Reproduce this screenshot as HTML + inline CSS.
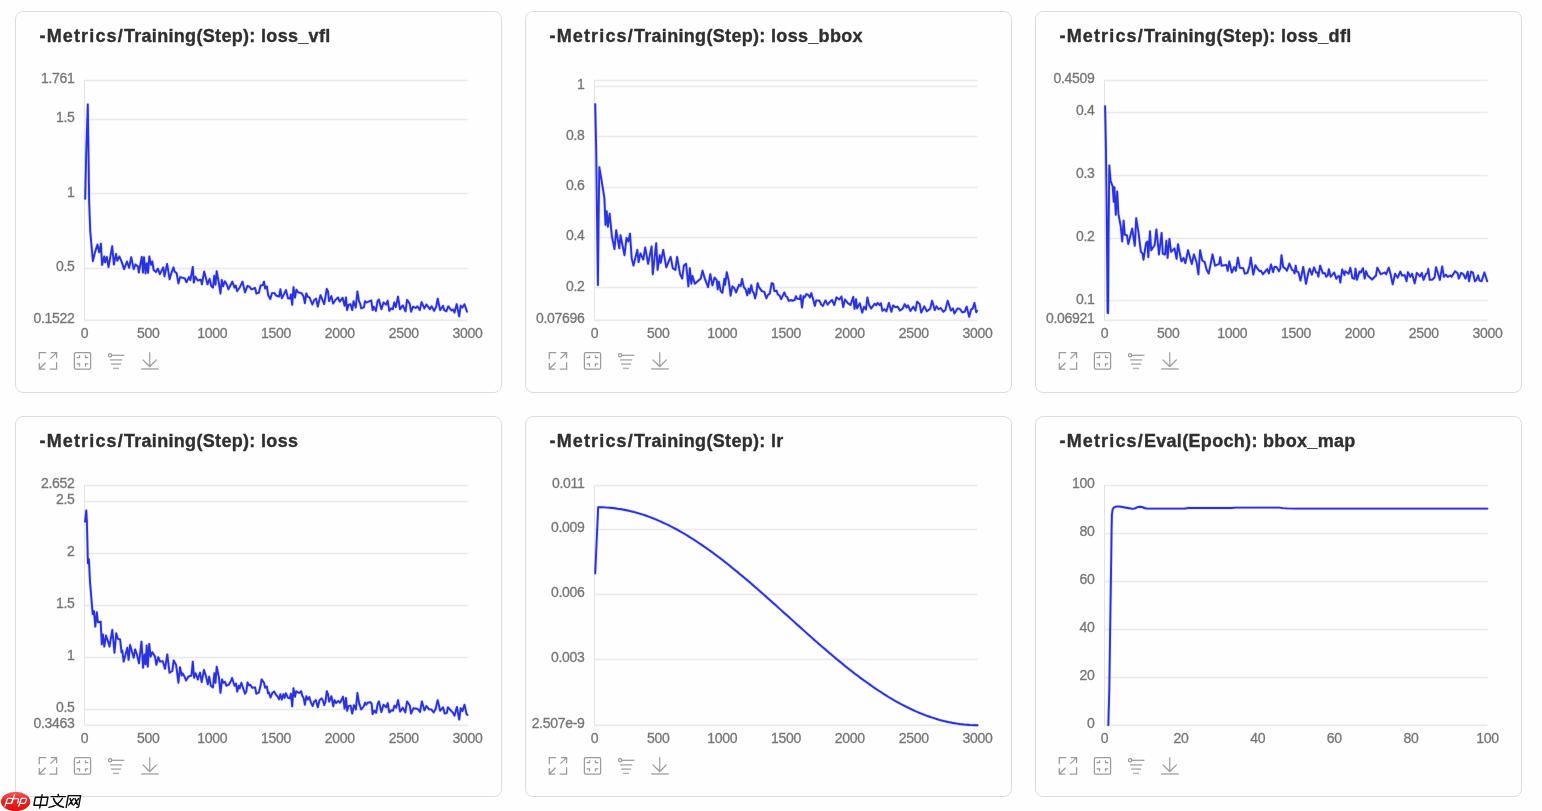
<!DOCTYPE html>
<html lang="en"><head><meta charset="utf-8"><title>Scalar metrics</title>
<style>
html,body{margin:0;padding:0;}
body{width:1542px;height:811px;background:#fefefe;position:relative;overflow:hidden;
 font-family:"Liberation Sans",sans-serif;}
.card{position:absolute;width:487px;height:382px;box-sizing:border-box;border:1px solid #dddddd;
 border-radius:8px;background:transparent;filter:blur(0.3px);}
.card svg{position:absolute;left:-1px;top:-1px;overflow:visible;}
.title{position:absolute;left:23.5px;top:14px;margin:0;font-size:18px;line-height:20px;font-weight:bold;
 color:#2f2f2f;white-space:nowrap;letter-spacing:0.32px;-webkit-text-stroke:0.35px #2f2f2f;}
.ta{letter-spacing:1.15px;}
.wm{position:absolute;left:0;top:788px;width:90px;height:23px;filter:blur(0.3px);}
</style></head><body>
<div class="card" style="left:15px;top:11px;height:382px">
<h3 class="title"><span class="ta">-Metrics/</span>Training(Step): loss_vfl</h3>
<svg class="plot" width="487" height="382" viewBox="0 0 487 382">
<line x1="69.5" y1="69.50" x2="452.5" y2="69.50" stroke="#ebebeb" stroke-width="3" stroke-opacity="0.3"/>
<line x1="69.5" y1="69.50" x2="452.5" y2="69.50" stroke="#ebebeb" stroke-width="1"/>
<line x1="69.5" y1="108.50" x2="452.5" y2="108.50" stroke="#ebebeb" stroke-width="3" stroke-opacity="0.3"/>
<line x1="69.5" y1="108.50" x2="452.5" y2="108.50" stroke="#ebebeb" stroke-width="1"/>
<line x1="69.5" y1="182.50" x2="452.5" y2="182.50" stroke="#ebebeb" stroke-width="3" stroke-opacity="0.3"/>
<line x1="69.5" y1="182.50" x2="452.5" y2="182.50" stroke="#ebebeb" stroke-width="1"/>
<line x1="69.5" y1="257.50" x2="452.5" y2="257.50" stroke="#ebebeb" stroke-width="3" stroke-opacity="0.3"/>
<line x1="69.5" y1="257.50" x2="452.5" y2="257.50" stroke="#ebebeb" stroke-width="1"/>
<line x1="69.5" y1="309.20" x2="452.5" y2="309.20" stroke="#ebebeb" stroke-width="3" stroke-opacity="0.3"/>
<line x1="69.5" y1="309.20" x2="452.5" y2="309.20" stroke="#e4e4e4" stroke-width="1"/>
<line x1="69.5" y1="69.0" x2="69.5" y2="309.7" stroke="#e4e4e4" stroke-width="1"/>
<g font-family="Liberation Sans, sans-serif" font-size="14" fill="#767676" stroke="#767676" stroke-width="0.3" letter-spacing="-0.3" text-anchor="end">
<text x="59.5" y="72.1">1.761</text>
<text x="59.5" y="111.0">1.5</text>
<text x="59.5" y="185.5">1</text>
<text x="59.5" y="260.0">0.5</text>
<text x="59.5" y="311.8">0.1522</text>
</g>
<g font-family="Liberation Sans, sans-serif" font-size="14" fill="#767676" stroke="#767676" stroke-width="0.3" letter-spacing="-0.3" text-anchor="middle">
<text x="69.5" y="326.8">0</text>
<text x="133.3" y="326.8">500</text>
<text x="197.2" y="326.8">1000</text>
<text x="261.0" y="326.8">1500</text>
<text x="324.8" y="326.8">2000</text>
<text x="388.7" y="326.8">2500</text>
<text x="452.5" y="326.8">3000</text>
</g>
<polyline points="70.2,187.8 71.3,139.0 72.8,93.5 74.2,192.5 75.3,221.0 77.9,250.1 80.0,241.2 82.5,233.6 84.2,241.2 85.9,232.8 87.1,253.9 89.2,245.5 90.1,251.4 91.8,245.9 93.5,256.0 97.2,235.3 98.9,253.5 101.0,242.9 102.3,249.7 104.4,245.5 106.9,251.4 109.1,258.1 112.0,250.5 114.1,256.8 116.2,246.3 118.7,258.1 120.4,253.5 123.0,255.6 123.8,261.5 126.8,245.9 128.0,261.5 129.0,246.3 130.6,262.3 131.8,252.2 133.1,261.9 134.3,245.5 136.0,253.9 137.3,250.5 138.6,258.9 141.1,261.0 142.8,257.7 144.9,263.2 148.3,256.4 149.5,265.3 152.1,253.0 154.6,268.2 156.3,262.3 158.5,256.4 159.6,260.6 161.7,262.3 163.4,272.4 165.1,266.1 169.8,267.4 171.4,271.2 174.0,266.1 175.4,269.1 177.8,256.0 178.8,271.6 180.3,265.7 182.8,269.5 185.8,268.6 186.9,273.3 189.2,260.6 192.5,273.3 194.6,267.8 196.3,275.0 198.0,276.6 199.2,264.8 200.5,273.7 201.7,260.2 203.4,269.5 205.5,282.5 206.8,269.0 208.1,275.4 209.8,270.3 211.9,273.7 213.4,278.3 217.3,270.7 219.5,276.6 220.7,274.5 222.1,280.0 224.9,276.2 227.5,270.7 230.0,281.3 232.5,274.9 234.6,275.8 236.3,278.3 240.1,277.0 241.4,282.5 243.9,281.7 245.6,274.5 247.7,274.1 249.0,270.7 250.2,277.5 251.9,275.4 253.2,284.2 255.3,288.0 257.0,282.1 259.5,282.1 261.2,284.6 264.1,285.5 265.4,278.3 266.8,287.2 269.2,282.9 270.9,279.1 273.0,287.2 275.1,287.6 275.9,283.4 277.2,293.9 278.5,276.2 280.0,286.7 281.4,278.7 283.1,281.3 286.5,282.1 288.6,285.5 289.9,292.2 291.3,282.5 292.8,285.9 294.5,286.3 297.4,293.5 299.1,289.3 301.1,287.6 302.8,295.6 305.5,284.2 309.2,293.1 311.8,277.9 313.0,280.4 314.1,290.1 316.4,285.1 318.1,292.6 320.6,288.8 323.0,286.4 324.7,290.6 327.6,286.8 329.6,294.8 331.0,286.4 332.1,299.1 333.5,294.0 335.6,293.2 337.2,299.1 338.6,290.2 340.7,296.5 342.4,280.5 344.1,290.6 345.1,292.3 346.2,297.4 349.0,296.1 350.0,290.2 351.7,291.5 356.3,289.4 357.6,299.1 358.8,295.7 360.9,299.9 362.6,290.2 363.9,288.5 366.4,298.2 368.5,291.5 371.1,293.6 372.7,289.8 374.3,299.9 376.1,297.4 377.8,298.2 379.3,291.5 380.8,296.1 383.0,285.6 385.0,298.2 387.9,294.4 390.5,300.3 392.1,288.9 394.7,292.7 396.1,300.7 398.0,295.7 400.6,297.0 402.3,295.3 404.8,299.1 406.6,291.1 409.4,297.4 411.4,293.6 414.9,298.2 416.6,295.3 419.1,299.9 421.2,295.7 422.7,287.7 425.2,299.1 428.0,294.8 429.2,299.1 431.3,300.3 433.3,295.3 436.4,299.5 438.1,298.6 439.5,301.6 441.7,293.2 444.2,305.4 445.7,294.8 447.4,296.5 449.5,293.2 452.0,300.7" fill="none" stroke="#2932e1" stroke-width="3.4" stroke-opacity="0.16" stroke-linejoin="round" stroke-linecap="round"/>
<polyline points="70.2,187.8 71.3,139.0 72.8,93.5 74.2,192.5 75.3,221.0 77.9,250.1 80.0,241.2 82.5,233.6 84.2,241.2 85.9,232.8 87.1,253.9 89.2,245.5 90.1,251.4 91.8,245.9 93.5,256.0 97.2,235.3 98.9,253.5 101.0,242.9 102.3,249.7 104.4,245.5 106.9,251.4 109.1,258.1 112.0,250.5 114.1,256.8 116.2,246.3 118.7,258.1 120.4,253.5 123.0,255.6 123.8,261.5 126.8,245.9 128.0,261.5 129.0,246.3 130.6,262.3 131.8,252.2 133.1,261.9 134.3,245.5 136.0,253.9 137.3,250.5 138.6,258.9 141.1,261.0 142.8,257.7 144.9,263.2 148.3,256.4 149.5,265.3 152.1,253.0 154.6,268.2 156.3,262.3 158.5,256.4 159.6,260.6 161.7,262.3 163.4,272.4 165.1,266.1 169.8,267.4 171.4,271.2 174.0,266.1 175.4,269.1 177.8,256.0 178.8,271.6 180.3,265.7 182.8,269.5 185.8,268.6 186.9,273.3 189.2,260.6 192.5,273.3 194.6,267.8 196.3,275.0 198.0,276.6 199.2,264.8 200.5,273.7 201.7,260.2 203.4,269.5 205.5,282.5 206.8,269.0 208.1,275.4 209.8,270.3 211.9,273.7 213.4,278.3 217.3,270.7 219.5,276.6 220.7,274.5 222.1,280.0 224.9,276.2 227.5,270.7 230.0,281.3 232.5,274.9 234.6,275.8 236.3,278.3 240.1,277.0 241.4,282.5 243.9,281.7 245.6,274.5 247.7,274.1 249.0,270.7 250.2,277.5 251.9,275.4 253.2,284.2 255.3,288.0 257.0,282.1 259.5,282.1 261.2,284.6 264.1,285.5 265.4,278.3 266.8,287.2 269.2,282.9 270.9,279.1 273.0,287.2 275.1,287.6 275.9,283.4 277.2,293.9 278.5,276.2 280.0,286.7 281.4,278.7 283.1,281.3 286.5,282.1 288.6,285.5 289.9,292.2 291.3,282.5 292.8,285.9 294.5,286.3 297.4,293.5 299.1,289.3 301.1,287.6 302.8,295.6 305.5,284.2 309.2,293.1 311.8,277.9 313.0,280.4 314.1,290.1 316.4,285.1 318.1,292.6 320.6,288.8 323.0,286.4 324.7,290.6 327.6,286.8 329.6,294.8 331.0,286.4 332.1,299.1 333.5,294.0 335.6,293.2 337.2,299.1 338.6,290.2 340.7,296.5 342.4,280.5 344.1,290.6 345.1,292.3 346.2,297.4 349.0,296.1 350.0,290.2 351.7,291.5 356.3,289.4 357.6,299.1 358.8,295.7 360.9,299.9 362.6,290.2 363.9,288.5 366.4,298.2 368.5,291.5 371.1,293.6 372.7,289.8 374.3,299.9 376.1,297.4 377.8,298.2 379.3,291.5 380.8,296.1 383.0,285.6 385.0,298.2 387.9,294.4 390.5,300.3 392.1,288.9 394.7,292.7 396.1,300.7 398.0,295.7 400.6,297.0 402.3,295.3 404.8,299.1 406.6,291.1 409.4,297.4 411.4,293.6 414.9,298.2 416.6,295.3 419.1,299.9 421.2,295.7 422.7,287.7 425.2,299.1 428.0,294.8 429.2,299.1 431.3,300.3 433.3,295.3 436.4,299.5 438.1,298.6 439.5,301.6 441.7,293.2 444.2,305.4 445.7,294.8 447.4,296.5 449.5,293.2 452.0,300.7" fill="none" stroke="#2932e1" stroke-width="1.9" stroke-linejoin="round" stroke-linecap="round"/>
</svg>
<svg class="icons" width="487" height="382" viewBox="0 0 487 382" fill="none" stroke="#9b9b9b" stroke-width="1.25" stroke-linecap="butt" stroke-linejoin="miter">
<path d="M24.30 348.30 L24.30 341.70 L31.20 341.70"/>
<path d="M35.80 341.70 L41.60 341.70 L41.60 347.30 M41.40 341.90 L35.40 347.60"/>
<path d="M24.30 352.00 L24.30 358.00 L30.20 358.00 M24.50 357.80 L30.60 351.80"/>
<path d="M34.60 358.00 L41.60 358.00 L41.60 351.30"/>
<rect x="59.40" y="341.70" width="16.2" height="16.3" rx="1.3"/>
<path d="M64.50 344.20 L64.50 346.60 L61.60 346.60"/>
<path d="M70.50 344.20 L70.50 346.60 L73.30 346.60"/>
<path d="M61.60 352.90 L64.50 352.90 L64.50 355.40"/>
<path d="M73.30 352.90 L70.50 352.90 L70.50 355.40"/>
<circle cx="95.10" cy="344.20" r="1.6"/>
<path d="M96.80 344.30 L109.40 344.30"/>
<path d="M95.10 348.90 L107.20 348.90" stroke-width="1.5" opacity="0.8"/>
<path d="M96.10 353.10 L106.10 353.10" stroke-width="1.5" opacity="0.8"/>
<path d="M98.00 357.40 L104.00 357.40" stroke-width="1.5" opacity="0.75"/>
<path d="M134.70 341.20 L134.70 355.20" stroke-width="1.5" opacity="0.8"/>
<path d="M127.70 348.60 L134.70 355.50 L141.70 348.60"/>
<path d="M126.20 357.95 L143.70 357.95" stroke-width="1.5" opacity="0.85"/>
</svg>
</div>
<div class="card" style="left:525px;top:11px;height:382px">
<h3 class="title"><span class="ta">-Metrics/</span>Training(Step): loss_bbox</h3>
<svg class="plot" width="487" height="382" viewBox="0 0 487 382">
<line x1="69.5" y1="69.50" x2="452.5" y2="69.50" stroke="#ebebeb" stroke-width="3" stroke-opacity="0.3"/>
<line x1="69.5" y1="69.50" x2="452.5" y2="69.50" stroke="#ebebeb" stroke-width="1"/>
<line x1="69.5" y1="75.50" x2="452.5" y2="75.50" stroke="#ebebeb" stroke-width="3" stroke-opacity="0.3"/>
<line x1="69.5" y1="75.50" x2="452.5" y2="75.50" stroke="#ebebeb" stroke-width="1"/>
<line x1="69.5" y1="125.50" x2="452.5" y2="125.50" stroke="#ebebeb" stroke-width="3" stroke-opacity="0.3"/>
<line x1="69.5" y1="125.50" x2="452.5" y2="125.50" stroke="#ebebeb" stroke-width="1"/>
<line x1="69.5" y1="176.50" x2="452.5" y2="176.50" stroke="#ebebeb" stroke-width="3" stroke-opacity="0.3"/>
<line x1="69.5" y1="176.50" x2="452.5" y2="176.50" stroke="#ebebeb" stroke-width="1"/>
<line x1="69.5" y1="226.50" x2="452.5" y2="226.50" stroke="#ebebeb" stroke-width="3" stroke-opacity="0.3"/>
<line x1="69.5" y1="226.50" x2="452.5" y2="226.50" stroke="#ebebeb" stroke-width="1"/>
<line x1="69.5" y1="276.50" x2="452.5" y2="276.50" stroke="#ebebeb" stroke-width="3" stroke-opacity="0.3"/>
<line x1="69.5" y1="276.50" x2="452.5" y2="276.50" stroke="#ebebeb" stroke-width="1"/>
<line x1="69.5" y1="309.20" x2="452.5" y2="309.20" stroke="#ebebeb" stroke-width="3" stroke-opacity="0.3"/>
<line x1="69.5" y1="309.20" x2="452.5" y2="309.20" stroke="#e4e4e4" stroke-width="1"/>
<line x1="69.5" y1="69.0" x2="69.5" y2="309.7" stroke="#e4e4e4" stroke-width="1"/>
<g font-family="Liberation Sans, sans-serif" font-size="14" fill="#767676" stroke="#767676" stroke-width="0.3" letter-spacing="-0.3" text-anchor="end">
<text x="59.5" y="78.1">1</text>
<text x="59.5" y="128.5">0.8</text>
<text x="59.5" y="178.8">0.6</text>
<text x="59.5" y="229.2">0.4</text>
<text x="59.5" y="279.5">0.2</text>
<text x="59.5" y="311.8">0.07696</text>
</g>
<g font-family="Liberation Sans, sans-serif" font-size="14" fill="#767676" stroke="#767676" stroke-width="0.3" letter-spacing="-0.3" text-anchor="middle">
<text x="69.5" y="326.8">0</text>
<text x="133.3" y="326.8">500</text>
<text x="197.2" y="326.8">1000</text>
<text x="261.0" y="326.8">1500</text>
<text x="324.8" y="326.8">2000</text>
<text x="388.7" y="326.8">2500</text>
<text x="452.5" y="326.8">3000</text>
</g>
<polyline points="70.2,93.1 71.2,139.0 71.8,189.0 72.9,274.0 73.6,209.0 74.3,156.1 76.5,169.0 79.4,187.2 80.5,213.9 81.7,200.1 82.9,215.7 84.6,202.7 86.9,225.2 89.5,238.1 91.2,219.1 94.3,237.3 95.5,224.3 99.5,244.2 101.5,226.9 103.3,230.4 105.0,222.6 106.7,247.6 108.5,254.5 112.3,239.0 113.6,251.1 115.4,242.4 118.3,248.5 120.2,236.4 123.1,252.8 126.6,235.5 127.8,263.2 131.2,232.1 132.6,258.9 134.7,244.2 135.7,251.9 138.2,239.0 141.3,256.3 145.6,245.9 147.8,257.1 150.4,258.9 152.1,245.9 155.1,263.2 157.2,267.5 158.9,254.5 161.1,252.8 163.4,275.3 164.8,257.1 166.3,272.7 167.5,264.9 169.8,272.7 175.8,267.5 177.5,259.7 180.1,268.4 183.1,276.1 185.3,263.2 187.4,274.4 189.6,266.6 191.7,269.1 192.7,278.4 193.8,270.8 195.7,280.1 197.4,281.8 199.4,267.9 200.1,273.8 201.8,261.1 203.9,270.8 205.6,284.7 207.3,275.5 209.0,276.7 211.1,281.4 214.0,273.8 215.7,275.0 217.1,267.9 218.7,275.9 220.8,278.8 222.2,284.3 223.7,277.6 224.7,282.2 226.3,274.2 227.5,280.5 228.8,281.8 230.1,287.3 231.3,282.6 232.6,272.1 233.8,275.9 236.8,280.1 239.3,280.9 241.3,287.3 242.7,284.3 244.8,282.6 246.7,272.1 248.2,272.9 249.4,280.1 251.6,279.7 252.8,283.5 254.5,284.3 256.2,288.1 259.3,281.4 260.8,285.2 262.1,286.0 263.8,289.8 266.3,289.0 267.2,289.8 269.7,289.0 270.9,285.2 272.2,287.7 274.7,288.1 275.6,284.3 277.0,296.5 278.5,285.2 279.5,286.4 281.5,283.1 283.6,284.3 284.9,286.4 286.3,282.2 288.2,288.5 289.9,294.9 291.2,289.4 294.6,289.8 296.2,293.6 297.9,294.9 300.5,289.4 302.6,293.6 304.7,291.1 307.0,289.0 309.3,294.0 311.4,286.4 314.4,288.5 316.5,285.6 318.2,296.1 320.0,288.5 323.0,292.3 325.5,294.0 328.2,286.0 329.6,297.8 331.0,288.1 332.1,297.4 334.8,292.3 337.2,301.6 339.0,295.7 340.9,298.6 342.4,286.4 344.1,294.0 346.2,297.4 349.6,292.7 351.2,294.4 352.5,291.9 354.6,294.0 355.9,292.3 357.4,299.9 359.3,298.2 361.4,300.3 363.9,291.9 366.4,300.7 368.1,294.4 370.2,296.1 372.7,295.7 374.9,299.5 377.8,297.4 379.7,293.2 381.6,296.5 383.0,294.4 385.4,299.9 388.3,295.7 390.5,299.5 392.1,290.6 394.7,293.2 396.2,301.6 399.3,295.3 401.8,300.3 405.2,297.8 407.1,289.8 409.8,299.1 411.4,295.3 413.6,298.2 415.7,297.0 418.3,300.7 420.4,299.1 422.7,289.8 425.9,299.5 428.0,297.4 429.4,302.4 432.6,297.4 435.1,298.2 437.2,301.2 439.8,300.7 441.7,295.7 444.2,305.8 446.1,298.6 447.8,297.4 449.5,291.9 451.2,301.2 452.0,299.9" fill="none" stroke="#2932e1" stroke-width="3.4" stroke-opacity="0.16" stroke-linejoin="round" stroke-linecap="round"/>
<polyline points="70.2,93.1 71.2,139.0 71.8,189.0 72.9,274.0 73.6,209.0 74.3,156.1 76.5,169.0 79.4,187.2 80.5,213.9 81.7,200.1 82.9,215.7 84.6,202.7 86.9,225.2 89.5,238.1 91.2,219.1 94.3,237.3 95.5,224.3 99.5,244.2 101.5,226.9 103.3,230.4 105.0,222.6 106.7,247.6 108.5,254.5 112.3,239.0 113.6,251.1 115.4,242.4 118.3,248.5 120.2,236.4 123.1,252.8 126.6,235.5 127.8,263.2 131.2,232.1 132.6,258.9 134.7,244.2 135.7,251.9 138.2,239.0 141.3,256.3 145.6,245.9 147.8,257.1 150.4,258.9 152.1,245.9 155.1,263.2 157.2,267.5 158.9,254.5 161.1,252.8 163.4,275.3 164.8,257.1 166.3,272.7 167.5,264.9 169.8,272.7 175.8,267.5 177.5,259.7 180.1,268.4 183.1,276.1 185.3,263.2 187.4,274.4 189.6,266.6 191.7,269.1 192.7,278.4 193.8,270.8 195.7,280.1 197.4,281.8 199.4,267.9 200.1,273.8 201.8,261.1 203.9,270.8 205.6,284.7 207.3,275.5 209.0,276.7 211.1,281.4 214.0,273.8 215.7,275.0 217.1,267.9 218.7,275.9 220.8,278.8 222.2,284.3 223.7,277.6 224.7,282.2 226.3,274.2 227.5,280.5 228.8,281.8 230.1,287.3 231.3,282.6 232.6,272.1 233.8,275.9 236.8,280.1 239.3,280.9 241.3,287.3 242.7,284.3 244.8,282.6 246.7,272.1 248.2,272.9 249.4,280.1 251.6,279.7 252.8,283.5 254.5,284.3 256.2,288.1 259.3,281.4 260.8,285.2 262.1,286.0 263.8,289.8 266.3,289.0 267.2,289.8 269.7,289.0 270.9,285.2 272.2,287.7 274.7,288.1 275.6,284.3 277.0,296.5 278.5,285.2 279.5,286.4 281.5,283.1 283.6,284.3 284.9,286.4 286.3,282.2 288.2,288.5 289.9,294.9 291.2,289.4 294.6,289.8 296.2,293.6 297.9,294.9 300.5,289.4 302.6,293.6 304.7,291.1 307.0,289.0 309.3,294.0 311.4,286.4 314.4,288.5 316.5,285.6 318.2,296.1 320.0,288.5 323.0,292.3 325.5,294.0 328.2,286.0 329.6,297.8 331.0,288.1 332.1,297.4 334.8,292.3 337.2,301.6 339.0,295.7 340.9,298.6 342.4,286.4 344.1,294.0 346.2,297.4 349.6,292.7 351.2,294.4 352.5,291.9 354.6,294.0 355.9,292.3 357.4,299.9 359.3,298.2 361.4,300.3 363.9,291.9 366.4,300.7 368.1,294.4 370.2,296.1 372.7,295.7 374.9,299.5 377.8,297.4 379.7,293.2 381.6,296.5 383.0,294.4 385.4,299.9 388.3,295.7 390.5,299.5 392.1,290.6 394.7,293.2 396.2,301.6 399.3,295.3 401.8,300.3 405.2,297.8 407.1,289.8 409.8,299.1 411.4,295.3 413.6,298.2 415.7,297.0 418.3,300.7 420.4,299.1 422.7,289.8 425.9,299.5 428.0,297.4 429.4,302.4 432.6,297.4 435.1,298.2 437.2,301.2 439.8,300.7 441.7,295.7 444.2,305.8 446.1,298.6 447.8,297.4 449.5,291.9 451.2,301.2 452.0,299.9" fill="none" stroke="#2932e1" stroke-width="1.9" stroke-linejoin="round" stroke-linecap="round"/>
</svg>
<svg class="icons" width="487" height="382" viewBox="0 0 487 382" fill="none" stroke="#9b9b9b" stroke-width="1.25" stroke-linecap="butt" stroke-linejoin="miter">
<path d="M24.30 348.30 L24.30 341.70 L31.20 341.70"/>
<path d="M35.80 341.70 L41.60 341.70 L41.60 347.30 M41.40 341.90 L35.40 347.60"/>
<path d="M24.30 352.00 L24.30 358.00 L30.20 358.00 M24.50 357.80 L30.60 351.80"/>
<path d="M34.60 358.00 L41.60 358.00 L41.60 351.30"/>
<rect x="59.40" y="341.70" width="16.2" height="16.3" rx="1.3"/>
<path d="M64.50 344.20 L64.50 346.60 L61.60 346.60"/>
<path d="M70.50 344.20 L70.50 346.60 L73.30 346.60"/>
<path d="M61.60 352.90 L64.50 352.90 L64.50 355.40"/>
<path d="M73.30 352.90 L70.50 352.90 L70.50 355.40"/>
<circle cx="95.10" cy="344.20" r="1.6"/>
<path d="M96.80 344.30 L109.40 344.30"/>
<path d="M95.10 348.90 L107.20 348.90" stroke-width="1.5" opacity="0.8"/>
<path d="M96.10 353.10 L106.10 353.10" stroke-width="1.5" opacity="0.8"/>
<path d="M98.00 357.40 L104.00 357.40" stroke-width="1.5" opacity="0.75"/>
<path d="M134.70 341.20 L134.70 355.20" stroke-width="1.5" opacity="0.8"/>
<path d="M127.70 348.60 L134.70 355.50 L141.70 348.60"/>
<path d="M126.20 357.95 L143.70 357.95" stroke-width="1.5" opacity="0.85"/>
</svg>
</div>
<div class="card" style="left:1035px;top:11px;height:382px">
<h3 class="title"><span class="ta">-Metrics/</span>Training(Step): loss_dfl</h3>
<svg class="plot" width="487" height="382" viewBox="0 0 487 382">
<line x1="69.5" y1="69.50" x2="452.5" y2="69.50" stroke="#ebebeb" stroke-width="3" stroke-opacity="0.3"/>
<line x1="69.5" y1="69.50" x2="452.5" y2="69.50" stroke="#ebebeb" stroke-width="1"/>
<line x1="69.5" y1="101.50" x2="452.5" y2="101.50" stroke="#ebebeb" stroke-width="3" stroke-opacity="0.3"/>
<line x1="69.5" y1="101.50" x2="452.5" y2="101.50" stroke="#ebebeb" stroke-width="1"/>
<line x1="69.5" y1="164.50" x2="452.5" y2="164.50" stroke="#ebebeb" stroke-width="3" stroke-opacity="0.3"/>
<line x1="69.5" y1="164.50" x2="452.5" y2="164.50" stroke="#ebebeb" stroke-width="1"/>
<line x1="69.5" y1="227.50" x2="452.5" y2="227.50" stroke="#ebebeb" stroke-width="3" stroke-opacity="0.3"/>
<line x1="69.5" y1="227.50" x2="452.5" y2="227.50" stroke="#ebebeb" stroke-width="1"/>
<line x1="69.5" y1="289.50" x2="452.5" y2="289.50" stroke="#ebebeb" stroke-width="3" stroke-opacity="0.3"/>
<line x1="69.5" y1="289.50" x2="452.5" y2="289.50" stroke="#ebebeb" stroke-width="1"/>
<line x1="69.5" y1="309.20" x2="452.5" y2="309.20" stroke="#ebebeb" stroke-width="3" stroke-opacity="0.3"/>
<line x1="69.5" y1="309.20" x2="452.5" y2="309.20" stroke="#e4e4e4" stroke-width="1"/>
<line x1="69.5" y1="69.0" x2="69.5" y2="309.7" stroke="#e4e4e4" stroke-width="1"/>
<g font-family="Liberation Sans, sans-serif" font-size="14" fill="#767676" stroke="#767676" stroke-width="0.3" letter-spacing="-0.3" text-anchor="end">
<text x="59.5" y="72.1">0.4509</text>
<text x="59.5" y="104.1">0.4</text>
<text x="59.5" y="166.9">0.3</text>
<text x="59.5" y="229.7">0.2</text>
<text x="59.5" y="292.5">0.1</text>
<text x="59.5" y="311.8">0.06921</text>
</g>
<g font-family="Liberation Sans, sans-serif" font-size="14" fill="#767676" stroke="#767676" stroke-width="0.3" letter-spacing="-0.3" text-anchor="middle">
<text x="69.5" y="326.8">0</text>
<text x="133.3" y="326.8">500</text>
<text x="197.2" y="326.8">1000</text>
<text x="261.0" y="326.8">1500</text>
<text x="324.8" y="326.8">2000</text>
<text x="388.7" y="326.8">2500</text>
<text x="452.5" y="326.8">3000</text>
</g>
<polyline points="70.1,95.3 70.8,129.0 71.6,189.0 72.6,301.5 73.1,302.0 73.6,219.0 74.3,154.5 75.6,170.1 77.7,175.3 78.7,190.8 79.4,176.1 80.8,203.8 82.2,180.5 83.4,202.9 85.7,215.0 87.2,230.5 88.6,209.8 89.8,223.6 92.0,224.5 93.3,233.1 97.2,217.6 99.8,234.9 101.2,207.2 103.3,220.2 105.9,240.9 107.6,242.6 108.5,248.7 111.0,232.3 112.4,230.5 113.3,246.1 115.0,220.2 116.2,239.2 119.7,234.0 121.4,218.4 124.0,243.5 126.6,221.9 127.8,242.6 130.0,243.5 131.4,229.7 132.6,246.9 134.4,227.9 136.1,240.9 139.5,237.4 141.6,247.8 143.0,233.1 146.4,250.4 148.5,246.9 150.4,252.1 153.0,239.2 156.8,253.0 158.9,243.5 161.6,251.3 163.4,263.4 165.1,239.2 167.2,249.5 169.8,251.3 171.5,258.2 173.7,262.5 175.5,253.9 177.5,243.5 180.1,254.7 184.1,253.0 185.3,246.1 186.5,254.7 191.4,253.9 192.7,259.9 194.3,250.5 196.8,261.5 199.3,256.0 200.8,259.8 202.9,246.7 204.8,256.8 208.2,257.3 209.9,262.7 212.4,261.9 214.5,255.1 215.8,246.7 218.3,263.6 220.4,254.3 222.5,257.7 224.6,260.2 225.9,259.8 228.0,263.2 230.1,260.6 232.2,258.1 233.9,262.3 236.0,253.5 238.1,261.1 239.4,256.0 241.5,256.0 244.0,260.2 245.3,257.3 246.5,244.2 248.2,256.0 250.8,258.1 251.9,259.8 254.4,252.6 257.1,258.9 258.3,259.4 259.6,262.3 260.7,254.7 261.7,260.6 263.4,261.1 265.5,269.5 268.2,256.0 271.0,272.9 273.1,262.7 274.6,257.7 276.9,263.6 279.0,256.4 281.1,261.5 282.4,261.5 283.4,265.7 285.1,254.7 287.9,262.3 290.0,262.3 291.2,265.7 292.9,264.0 293.8,258.1 295.7,265.7 299.2,261.5 301.3,267.8 303.0,265.3 304.3,265.3 305.3,271.6 307.2,258.5 309.4,264.0 310.2,260.2 313.6,262.7 315.3,256.8 317.4,267.0 319.5,267.8 320.5,257.7 322.0,268.8 324.5,260.6 325.8,261.5 328.0,257.2 329.7,267.6 331.0,260.2 332.7,264.5 337.1,268.5 341.0,264.5 342.3,256.7 345.8,263.2 349.7,261.5 351.2,263.2 353.8,256.7 355.8,264.1 357.7,273.2 360.1,262.8 362.7,266.7 365.3,260.6 367.1,264.5 369.7,264.1 371.6,270.2 372.9,261.1 375.3,265.8 377.1,262.8 379.7,272.4 381.8,261.9 385.1,265.4 386.8,261.9 388.6,268.9 391.0,262.8 392.4,262.4 393.3,258.0 394.7,268.9 397.5,268.5 399.6,266.3 401.0,256.3 403.1,262.8 404.9,268.9 407.2,255.4 408.9,265.8 410.9,263.7 412.7,265.8 415.3,264.5 416.6,265.8 420.1,260.2 422.7,262.4 423.8,267.6 426.2,261.9 428.3,263.2 430.5,267.6 432.7,260.6 434.0,270.2 436.1,260.6 437.9,261.5 439.9,270.2 441.4,268.9 443.1,264.5 444.4,269.3 446.6,270.2 449.4,261.5 452.2,270.2" fill="none" stroke="#2932e1" stroke-width="3.4" stroke-opacity="0.16" stroke-linejoin="round" stroke-linecap="round"/>
<polyline points="70.1,95.3 70.8,129.0 71.6,189.0 72.6,301.5 73.1,302.0 73.6,219.0 74.3,154.5 75.6,170.1 77.7,175.3 78.7,190.8 79.4,176.1 80.8,203.8 82.2,180.5 83.4,202.9 85.7,215.0 87.2,230.5 88.6,209.8 89.8,223.6 92.0,224.5 93.3,233.1 97.2,217.6 99.8,234.9 101.2,207.2 103.3,220.2 105.9,240.9 107.6,242.6 108.5,248.7 111.0,232.3 112.4,230.5 113.3,246.1 115.0,220.2 116.2,239.2 119.7,234.0 121.4,218.4 124.0,243.5 126.6,221.9 127.8,242.6 130.0,243.5 131.4,229.7 132.6,246.9 134.4,227.9 136.1,240.9 139.5,237.4 141.6,247.8 143.0,233.1 146.4,250.4 148.5,246.9 150.4,252.1 153.0,239.2 156.8,253.0 158.9,243.5 161.6,251.3 163.4,263.4 165.1,239.2 167.2,249.5 169.8,251.3 171.5,258.2 173.7,262.5 175.5,253.9 177.5,243.5 180.1,254.7 184.1,253.0 185.3,246.1 186.5,254.7 191.4,253.9 192.7,259.9 194.3,250.5 196.8,261.5 199.3,256.0 200.8,259.8 202.9,246.7 204.8,256.8 208.2,257.3 209.9,262.7 212.4,261.9 214.5,255.1 215.8,246.7 218.3,263.6 220.4,254.3 222.5,257.7 224.6,260.2 225.9,259.8 228.0,263.2 230.1,260.6 232.2,258.1 233.9,262.3 236.0,253.5 238.1,261.1 239.4,256.0 241.5,256.0 244.0,260.2 245.3,257.3 246.5,244.2 248.2,256.0 250.8,258.1 251.9,259.8 254.4,252.6 257.1,258.9 258.3,259.4 259.6,262.3 260.7,254.7 261.7,260.6 263.4,261.1 265.5,269.5 268.2,256.0 271.0,272.9 273.1,262.7 274.6,257.7 276.9,263.6 279.0,256.4 281.1,261.5 282.4,261.5 283.4,265.7 285.1,254.7 287.9,262.3 290.0,262.3 291.2,265.7 292.9,264.0 293.8,258.1 295.7,265.7 299.2,261.5 301.3,267.8 303.0,265.3 304.3,265.3 305.3,271.6 307.2,258.5 309.4,264.0 310.2,260.2 313.6,262.7 315.3,256.8 317.4,267.0 319.5,267.8 320.5,257.7 322.0,268.8 324.5,260.6 325.8,261.5 328.0,257.2 329.7,267.6 331.0,260.2 332.7,264.5 337.1,268.5 341.0,264.5 342.3,256.7 345.8,263.2 349.7,261.5 351.2,263.2 353.8,256.7 355.8,264.1 357.7,273.2 360.1,262.8 362.7,266.7 365.3,260.6 367.1,264.5 369.7,264.1 371.6,270.2 372.9,261.1 375.3,265.8 377.1,262.8 379.7,272.4 381.8,261.9 385.1,265.4 386.8,261.9 388.6,268.9 391.0,262.8 392.4,262.4 393.3,258.0 394.7,268.9 397.5,268.5 399.6,266.3 401.0,256.3 403.1,262.8 404.9,268.9 407.2,255.4 408.9,265.8 410.9,263.7 412.7,265.8 415.3,264.5 416.6,265.8 420.1,260.2 422.7,262.4 423.8,267.6 426.2,261.9 428.3,263.2 430.5,267.6 432.7,260.6 434.0,270.2 436.1,260.6 437.9,261.5 439.9,270.2 441.4,268.9 443.1,264.5 444.4,269.3 446.6,270.2 449.4,261.5 452.2,270.2" fill="none" stroke="#2932e1" stroke-width="1.9" stroke-linejoin="round" stroke-linecap="round"/>
</svg>
<svg class="icons" width="487" height="382" viewBox="0 0 487 382" fill="none" stroke="#9b9b9b" stroke-width="1.25" stroke-linecap="butt" stroke-linejoin="miter">
<path d="M24.30 348.30 L24.30 341.70 L31.20 341.70"/>
<path d="M35.80 341.70 L41.60 341.70 L41.60 347.30 M41.40 341.90 L35.40 347.60"/>
<path d="M24.30 352.00 L24.30 358.00 L30.20 358.00 M24.50 357.80 L30.60 351.80"/>
<path d="M34.60 358.00 L41.60 358.00 L41.60 351.30"/>
<rect x="59.40" y="341.70" width="16.2" height="16.3" rx="1.3"/>
<path d="M64.50 344.20 L64.50 346.60 L61.60 346.60"/>
<path d="M70.50 344.20 L70.50 346.60 L73.30 346.60"/>
<path d="M61.60 352.90 L64.50 352.90 L64.50 355.40"/>
<path d="M73.30 352.90 L70.50 352.90 L70.50 355.40"/>
<circle cx="95.10" cy="344.20" r="1.6"/>
<path d="M96.80 344.30 L109.40 344.30"/>
<path d="M95.10 348.90 L107.20 348.90" stroke-width="1.5" opacity="0.8"/>
<path d="M96.10 353.10 L106.10 353.10" stroke-width="1.5" opacity="0.8"/>
<path d="M98.00 357.40 L104.00 357.40" stroke-width="1.5" opacity="0.75"/>
<path d="M134.70 341.20 L134.70 355.20" stroke-width="1.5" opacity="0.8"/>
<path d="M127.70 348.60 L134.70 355.50 L141.70 348.60"/>
<path d="M126.20 357.95 L143.70 357.95" stroke-width="1.5" opacity="0.85"/>
</svg>
</div>
<div class="card" style="left:15px;top:416px;height:381px">
<h3 class="title"><span class="ta">-Metrics/</span>Training(Step): loss</h3>
<svg class="plot" width="487" height="382" viewBox="0 0 487 382">
<line x1="69.5" y1="69.50" x2="452.5" y2="69.50" stroke="#ebebeb" stroke-width="3" stroke-opacity="0.3"/>
<line x1="69.5" y1="69.50" x2="452.5" y2="69.50" stroke="#ebebeb" stroke-width="1"/>
<line x1="69.5" y1="85.50" x2="452.5" y2="85.50" stroke="#ebebeb" stroke-width="3" stroke-opacity="0.3"/>
<line x1="69.5" y1="85.50" x2="452.5" y2="85.50" stroke="#ebebeb" stroke-width="1"/>
<line x1="69.5" y1="137.50" x2="452.5" y2="137.50" stroke="#ebebeb" stroke-width="3" stroke-opacity="0.3"/>
<line x1="69.5" y1="137.50" x2="452.5" y2="137.50" stroke="#ebebeb" stroke-width="1"/>
<line x1="69.5" y1="189.50" x2="452.5" y2="189.50" stroke="#ebebeb" stroke-width="3" stroke-opacity="0.3"/>
<line x1="69.5" y1="189.50" x2="452.5" y2="189.50" stroke="#ebebeb" stroke-width="1"/>
<line x1="69.5" y1="241.50" x2="452.5" y2="241.50" stroke="#ebebeb" stroke-width="3" stroke-opacity="0.3"/>
<line x1="69.5" y1="241.50" x2="452.5" y2="241.50" stroke="#ebebeb" stroke-width="1"/>
<line x1="69.5" y1="293.50" x2="452.5" y2="293.50" stroke="#ebebeb" stroke-width="3" stroke-opacity="0.3"/>
<line x1="69.5" y1="293.50" x2="452.5" y2="293.50" stroke="#ebebeb" stroke-width="1"/>
<line x1="69.5" y1="309.20" x2="452.5" y2="309.20" stroke="#ebebeb" stroke-width="3" stroke-opacity="0.3"/>
<line x1="69.5" y1="309.20" x2="452.5" y2="309.20" stroke="#e4e4e4" stroke-width="1"/>
<line x1="69.5" y1="69.0" x2="69.5" y2="309.7" stroke="#e4e4e4" stroke-width="1"/>
<g font-family="Liberation Sans, sans-serif" font-size="14" fill="#767676" stroke="#767676" stroke-width="0.3" letter-spacing="-0.3" text-anchor="end">
<text x="59.5" y="72.1">2.652</text>
<text x="59.5" y="87.9">2.5</text>
<text x="59.5" y="139.9">2</text>
<text x="59.5" y="191.9">1.5</text>
<text x="59.5" y="243.8">1</text>
<text x="59.5" y="295.8">0.5</text>
<text x="59.5" y="311.8">0.3463</text>
</g>
<g font-family="Liberation Sans, sans-serif" font-size="14" fill="#767676" stroke="#767676" stroke-width="0.3" letter-spacing="-0.3" text-anchor="middle">
<text x="69.5" y="326.8">0</text>
<text x="133.3" y="326.8">500</text>
<text x="197.2" y="326.8">1000</text>
<text x="261.0" y="326.8">1500</text>
<text x="324.8" y="326.8">2000</text>
<text x="388.7" y="326.8">2500</text>
<text x="452.5" y="326.8">3000</text>
</g>
<polyline points="70.1,105.6 71.3,94.5 71.9,105.6 72.9,147.2 73.9,143.3 75.0,165.7 76.5,184.0 77.7,198.0 79.0,195.1 80.3,210.6 81.8,196.2 82.9,206.2 85.7,205.6 86.8,228.4 87.9,218.4 89.3,230.6 91.0,219.5 92.9,225.1 94.5,230.6 97.3,214.0 99.5,236.7 101.2,217.3 102.9,222.9 105.1,223.4 106.5,236.2 107.3,234.5 108.7,245.6 112.3,231.7 113.6,243.9 115.1,229.0 118.7,241.7 120.1,233.4 122.1,239.0 124.0,247.3 126.5,225.6 128.1,251.7 129.5,238.4 130.6,248.4 131.7,229.5 132.8,250.6 134.2,227.9 135.6,240.6 137.3,236.2 140.0,240.6 141.4,248.9 143.2,241.2 145.0,245.6 147.8,245.1 150.0,252.8 152.3,238.4 154.5,256.7 157.3,255.0 158.7,244.5 161.1,248.9 163.4,266.7 165.0,251.2 166.7,259.5 167.6,257.3 169.5,260.6 171.1,264.5 173.4,260.6 176.5,259.5 177.8,245.6 179.1,261.7 180.6,257.3 182.8,263.4 185.0,256.7 186.7,266.1 188.9,253.9 191.1,260.6 192.8,268.4 194.2,260.6 195.8,269.7 198.0,271.4 199.4,257.1 200.5,266.8 201.7,250.8 203.9,261.3 205.5,276.9 207.0,263.4 208.5,266.8 210.0,265.9 211.4,269.7 213.5,268.9 215.7,265.5 217.1,262.1 219.5,269.7 221.0,267.6 222.2,275.6 223.7,269.7 224.7,272.3 226.4,266.8 228.3,272.7 230.0,277.7 231.3,275.6 232.5,266.4 234.0,269.3 235.5,268.9 237.2,271.8 240.1,271.4 241.4,277.7 243.9,276.5 245.6,269.3 246.6,263.4 249.0,266.8 250.2,271.8 251.9,270.6 253.0,277.3 254.0,276.5 255.5,281.5 257.4,276.9 259.2,275.6 261.2,279.0 262.5,280.3 264.1,283.2 265.4,278.2 266.8,283.6 268.4,278.2 269.6,281.9 270.9,277.3 273.0,281.9 274.7,282.4 275.9,277.7 277.2,290.4 278.5,272.3 280.0,280.7 281.2,275.2 283.1,276.5 284.8,276.9 286.2,275.2 287.3,279.8 288.6,281.9 289.9,288.7 291.3,280.3 292.8,283.6 294.3,281.1 295.8,286.2 297.7,290.0 299.1,285.7 300.8,284.1 302.8,291.2 304.6,284.1 306.5,282.4 308.0,284.5 309.2,289.1 310.5,285.7 311.8,275.2 313.0,278.2 314.1,285.7 316.4,280.3 318.3,290.4 319.4,284.1 321.1,287.0 323.2,284.9 325.1,286.7 328.1,280.8 329.6,292.6 331.0,282.0 332.1,294.7 333.5,290.1 335.6,289.6 337.2,297.6 338.9,289.2 340.9,293.4 342.4,277.0 344.1,287.1 346.2,293.4 348.7,290.5 350.0,286.7 351.2,288.8 352.5,286.7 355.5,286.3 356.7,287.9 357.6,298.1 359.3,294.7 361.1,296.8 362.6,288.4 363.9,285.4 366.4,296.0 368.5,288.8 371.2,291.3 372.7,287.1 374.3,296.4 376.5,294.3 378.0,294.7 379.5,289.6 381.2,291.7 383.0,284.1 385.2,295.5 387.8,291.7 390.3,296.4 392.1,285.4 394.8,289.6 396.1,297.6 398.5,292.2 401.8,292.6 403.5,293.8 405.0,296.0 406.9,285.4 409.4,294.3 411.4,290.1 414.1,293.4 416.2,293.4 418.7,296.4 420.6,293.0 422.7,284.1 425.2,294.7 428.0,291.3 429.7,297.6 431.8,296.8 433.0,291.3 436.4,295.1 438.1,296.8 439.5,299.7 441.9,290.9 444.2,303.5 445.7,292.2 447.4,295.1 449.5,288.8 451.6,298.1 452.4,298.9" fill="none" stroke="#2932e1" stroke-width="3.4" stroke-opacity="0.16" stroke-linejoin="round" stroke-linecap="round"/>
<polyline points="70.1,105.6 71.3,94.5 71.9,105.6 72.9,147.2 73.9,143.3 75.0,165.7 76.5,184.0 77.7,198.0 79.0,195.1 80.3,210.6 81.8,196.2 82.9,206.2 85.7,205.6 86.8,228.4 87.9,218.4 89.3,230.6 91.0,219.5 92.9,225.1 94.5,230.6 97.3,214.0 99.5,236.7 101.2,217.3 102.9,222.9 105.1,223.4 106.5,236.2 107.3,234.5 108.7,245.6 112.3,231.7 113.6,243.9 115.1,229.0 118.7,241.7 120.1,233.4 122.1,239.0 124.0,247.3 126.5,225.6 128.1,251.7 129.5,238.4 130.6,248.4 131.7,229.5 132.8,250.6 134.2,227.9 135.6,240.6 137.3,236.2 140.0,240.6 141.4,248.9 143.2,241.2 145.0,245.6 147.8,245.1 150.0,252.8 152.3,238.4 154.5,256.7 157.3,255.0 158.7,244.5 161.1,248.9 163.4,266.7 165.0,251.2 166.7,259.5 167.6,257.3 169.5,260.6 171.1,264.5 173.4,260.6 176.5,259.5 177.8,245.6 179.1,261.7 180.6,257.3 182.8,263.4 185.0,256.7 186.7,266.1 188.9,253.9 191.1,260.6 192.8,268.4 194.2,260.6 195.8,269.7 198.0,271.4 199.4,257.1 200.5,266.8 201.7,250.8 203.9,261.3 205.5,276.9 207.0,263.4 208.5,266.8 210.0,265.9 211.4,269.7 213.5,268.9 215.7,265.5 217.1,262.1 219.5,269.7 221.0,267.6 222.2,275.6 223.7,269.7 224.7,272.3 226.4,266.8 228.3,272.7 230.0,277.7 231.3,275.6 232.5,266.4 234.0,269.3 235.5,268.9 237.2,271.8 240.1,271.4 241.4,277.7 243.9,276.5 245.6,269.3 246.6,263.4 249.0,266.8 250.2,271.8 251.9,270.6 253.0,277.3 254.0,276.5 255.5,281.5 257.4,276.9 259.2,275.6 261.2,279.0 262.5,280.3 264.1,283.2 265.4,278.2 266.8,283.6 268.4,278.2 269.6,281.9 270.9,277.3 273.0,281.9 274.7,282.4 275.9,277.7 277.2,290.4 278.5,272.3 280.0,280.7 281.2,275.2 283.1,276.5 284.8,276.9 286.2,275.2 287.3,279.8 288.6,281.9 289.9,288.7 291.3,280.3 292.8,283.6 294.3,281.1 295.8,286.2 297.7,290.0 299.1,285.7 300.8,284.1 302.8,291.2 304.6,284.1 306.5,282.4 308.0,284.5 309.2,289.1 310.5,285.7 311.8,275.2 313.0,278.2 314.1,285.7 316.4,280.3 318.3,290.4 319.4,284.1 321.1,287.0 323.2,284.9 325.1,286.7 328.1,280.8 329.6,292.6 331.0,282.0 332.1,294.7 333.5,290.1 335.6,289.6 337.2,297.6 338.9,289.2 340.9,293.4 342.4,277.0 344.1,287.1 346.2,293.4 348.7,290.5 350.0,286.7 351.2,288.8 352.5,286.7 355.5,286.3 356.7,287.9 357.6,298.1 359.3,294.7 361.1,296.8 362.6,288.4 363.9,285.4 366.4,296.0 368.5,288.8 371.2,291.3 372.7,287.1 374.3,296.4 376.5,294.3 378.0,294.7 379.5,289.6 381.2,291.7 383.0,284.1 385.2,295.5 387.8,291.7 390.3,296.4 392.1,285.4 394.8,289.6 396.1,297.6 398.5,292.2 401.8,292.6 403.5,293.8 405.0,296.0 406.9,285.4 409.4,294.3 411.4,290.1 414.1,293.4 416.2,293.4 418.7,296.4 420.6,293.0 422.7,284.1 425.2,294.7 428.0,291.3 429.7,297.6 431.8,296.8 433.0,291.3 436.4,295.1 438.1,296.8 439.5,299.7 441.9,290.9 444.2,303.5 445.7,292.2 447.4,295.1 449.5,288.8 451.6,298.1 452.4,298.9" fill="none" stroke="#2932e1" stroke-width="1.9" stroke-linejoin="round" stroke-linecap="round"/>
</svg>
<svg class="icons" width="487" height="382" viewBox="0 0 487 382" fill="none" stroke="#9b9b9b" stroke-width="1.25" stroke-linecap="butt" stroke-linejoin="miter">
<path d="M24.30 348.30 L24.30 341.70 L31.20 341.70"/>
<path d="M35.80 341.70 L41.60 341.70 L41.60 347.30 M41.40 341.90 L35.40 347.60"/>
<path d="M24.30 352.00 L24.30 358.00 L30.20 358.00 M24.50 357.80 L30.60 351.80"/>
<path d="M34.60 358.00 L41.60 358.00 L41.60 351.30"/>
<rect x="59.40" y="341.70" width="16.2" height="16.3" rx="1.3"/>
<path d="M64.50 344.20 L64.50 346.60 L61.60 346.60"/>
<path d="M70.50 344.20 L70.50 346.60 L73.30 346.60"/>
<path d="M61.60 352.90 L64.50 352.90 L64.50 355.40"/>
<path d="M73.30 352.90 L70.50 352.90 L70.50 355.40"/>
<circle cx="95.10" cy="344.20" r="1.6"/>
<path d="M96.80 344.30 L109.40 344.30"/>
<path d="M95.10 348.90 L107.20 348.90" stroke-width="1.5" opacity="0.8"/>
<path d="M96.10 353.10 L106.10 353.10" stroke-width="1.5" opacity="0.8"/>
<path d="M98.00 357.40 L104.00 357.40" stroke-width="1.5" opacity="0.75"/>
<path d="M134.70 341.20 L134.70 355.20" stroke-width="1.5" opacity="0.8"/>
<path d="M127.70 348.60 L134.70 355.50 L141.70 348.60"/>
<path d="M126.20 357.95 L143.70 357.95" stroke-width="1.5" opacity="0.85"/>
</svg>
</div>
<div class="card" style="left:525px;top:416px;height:381px">
<h3 class="title"><span class="ta">-Metrics/</span>Training(Step): lr</h3>
<svg class="plot" width="487" height="382" viewBox="0 0 487 382">
<line x1="69.5" y1="69.50" x2="452.5" y2="69.50" stroke="#ebebeb" stroke-width="3" stroke-opacity="0.3"/>
<line x1="69.5" y1="69.50" x2="452.5" y2="69.50" stroke="#ebebeb" stroke-width="1"/>
<line x1="69.5" y1="113.50" x2="452.5" y2="113.50" stroke="#ebebeb" stroke-width="3" stroke-opacity="0.3"/>
<line x1="69.5" y1="113.50" x2="452.5" y2="113.50" stroke="#ebebeb" stroke-width="1"/>
<line x1="69.5" y1="178.50" x2="452.5" y2="178.50" stroke="#ebebeb" stroke-width="3" stroke-opacity="0.3"/>
<line x1="69.5" y1="178.50" x2="452.5" y2="178.50" stroke="#ebebeb" stroke-width="1"/>
<line x1="69.5" y1="243.50" x2="452.5" y2="243.50" stroke="#ebebeb" stroke-width="3" stroke-opacity="0.3"/>
<line x1="69.5" y1="243.50" x2="452.5" y2="243.50" stroke="#ebebeb" stroke-width="1"/>
<line x1="69.5" y1="309.20" x2="452.5" y2="309.20" stroke="#ebebeb" stroke-width="3" stroke-opacity="0.3"/>
<line x1="69.5" y1="309.20" x2="452.5" y2="309.20" stroke="#e4e4e4" stroke-width="1"/>
<line x1="69.5" y1="69.0" x2="69.5" y2="309.7" stroke="#e4e4e4" stroke-width="1"/>
<g font-family="Liberation Sans, sans-serif" font-size="14" fill="#767676" stroke="#767676" stroke-width="0.3" letter-spacing="-0.3" text-anchor="end">
<text x="59.5" y="72.1">0.011</text>
<text x="59.5" y="115.7">0.009</text>
<text x="59.5" y="181.1">0.006</text>
<text x="59.5" y="246.4">0.003</text>
<text x="59.5" y="311.8">2.507e-9</text>
</g>
<g font-family="Liberation Sans, sans-serif" font-size="14" fill="#767676" stroke="#767676" stroke-width="0.3" letter-spacing="-0.3" text-anchor="middle">
<text x="69.5" y="326.8">0</text>
<text x="133.3" y="326.8">500</text>
<text x="197.2" y="326.8">1000</text>
<text x="261.0" y="326.8">1500</text>
<text x="324.8" y="326.8">2000</text>
<text x="388.7" y="326.8">2500</text>
<text x="452.5" y="326.8">3000</text>
</g>
<polyline points="70.2,157.3 73.2,91.3 74.6,91.3 77.2,91.3 79.7,91.4 82.3,91.6 84.8,91.8 87.4,92.0 89.9,92.3 92.5,92.7 95.0,93.0 97.6,93.5 100.1,94.0 102.7,94.5 105.2,95.1 107.8,95.7 110.4,96.4 112.9,97.1 115.5,97.9 118.0,98.7 120.6,99.5 123.1,100.4 125.7,101.4 128.2,102.4 130.8,103.4 133.3,104.5 135.9,105.6 138.4,106.8 141.0,108.0 143.5,109.2 146.1,110.5 148.7,111.8 151.2,113.2 153.8,114.6 156.3,116.0 158.9,117.5 161.4,119.0 164.0,120.6 166.5,122.2 169.1,123.8 171.6,125.5 174.2,127.2 176.7,128.9 179.3,130.7 181.8,132.4 184.4,134.3 187.0,136.1 189.5,138.0 192.1,139.9 194.6,141.8 197.2,143.8 199.7,145.8 202.3,147.8 204.8,149.8 207.4,151.9 209.9,153.9 212.5,156.0 215.0,158.2 217.6,160.3 220.1,162.4 222.7,164.6 225.3,166.8 227.8,169.0 230.4,171.2 232.9,173.4 235.5,175.7 238.0,177.9 240.6,180.2 243.1,182.5 245.7,184.7 248.2,187.0 250.8,189.3 253.3,191.6 255.9,193.9 258.4,196.2 261.0,198.5 263.6,200.8 266.1,203.1 268.7,205.4 271.2,207.7 273.8,210.0 276.3,212.3 278.9,214.6 281.4,216.9 284.0,219.2 286.5,221.4 289.1,223.7 291.6,225.9 294.2,228.2 296.7,230.4 299.3,232.6 301.9,234.8 304.4,237.0 307.0,239.1 309.5,241.3 312.1,243.4 314.6,245.5 317.2,247.6 319.7,249.7 322.3,251.7 324.8,253.7 327.4,255.7 329.9,257.7 332.5,259.6 335.0,261.6 337.6,263.4 340.2,265.3 342.7,267.1 345.3,268.9 347.8,270.7 350.4,272.5 352.9,274.2 355.5,275.8 358.0,277.5 360.6,279.1 363.1,280.7 365.7,282.2 368.2,283.7 370.8,285.2 373.3,286.6 375.9,288.0 378.5,289.3 381.0,290.6 383.6,291.9 386.1,293.1 388.7,294.3 391.2,295.5 393.8,296.6 396.3,297.6 398.9,298.6 401.4,299.6 404.0,300.5 406.5,301.4 409.1,302.2 411.6,303.0 414.2,303.8 416.8,304.5 419.3,305.1 421.9,305.7 424.4,306.3 427.0,306.8 429.5,307.2 432.1,307.6 434.6,308.0 437.2,308.3 439.7,308.6 442.3,308.8 444.8,309.0 447.4,309.1 449.9,309.2 452.5,309.2" fill="none" stroke="#2932e1" stroke-width="3.4" stroke-opacity="0.16" stroke-linejoin="round" stroke-linecap="round"/>
<polyline points="70.2,157.3 73.2,91.3 74.6,91.3 77.2,91.3 79.7,91.4 82.3,91.6 84.8,91.8 87.4,92.0 89.9,92.3 92.5,92.7 95.0,93.0 97.6,93.5 100.1,94.0 102.7,94.5 105.2,95.1 107.8,95.7 110.4,96.4 112.9,97.1 115.5,97.9 118.0,98.7 120.6,99.5 123.1,100.4 125.7,101.4 128.2,102.4 130.8,103.4 133.3,104.5 135.9,105.6 138.4,106.8 141.0,108.0 143.5,109.2 146.1,110.5 148.7,111.8 151.2,113.2 153.8,114.6 156.3,116.0 158.9,117.5 161.4,119.0 164.0,120.6 166.5,122.2 169.1,123.8 171.6,125.5 174.2,127.2 176.7,128.9 179.3,130.7 181.8,132.4 184.4,134.3 187.0,136.1 189.5,138.0 192.1,139.9 194.6,141.8 197.2,143.8 199.7,145.8 202.3,147.8 204.8,149.8 207.4,151.9 209.9,153.9 212.5,156.0 215.0,158.2 217.6,160.3 220.1,162.4 222.7,164.6 225.3,166.8 227.8,169.0 230.4,171.2 232.9,173.4 235.5,175.7 238.0,177.9 240.6,180.2 243.1,182.5 245.7,184.7 248.2,187.0 250.8,189.3 253.3,191.6 255.9,193.9 258.4,196.2 261.0,198.5 263.6,200.8 266.1,203.1 268.7,205.4 271.2,207.7 273.8,210.0 276.3,212.3 278.9,214.6 281.4,216.9 284.0,219.2 286.5,221.4 289.1,223.7 291.6,225.9 294.2,228.2 296.7,230.4 299.3,232.6 301.9,234.8 304.4,237.0 307.0,239.1 309.5,241.3 312.1,243.4 314.6,245.5 317.2,247.6 319.7,249.7 322.3,251.7 324.8,253.7 327.4,255.7 329.9,257.7 332.5,259.6 335.0,261.6 337.6,263.4 340.2,265.3 342.7,267.1 345.3,268.9 347.8,270.7 350.4,272.5 352.9,274.2 355.5,275.8 358.0,277.5 360.6,279.1 363.1,280.7 365.7,282.2 368.2,283.7 370.8,285.2 373.3,286.6 375.9,288.0 378.5,289.3 381.0,290.6 383.6,291.9 386.1,293.1 388.7,294.3 391.2,295.5 393.8,296.6 396.3,297.6 398.9,298.6 401.4,299.6 404.0,300.5 406.5,301.4 409.1,302.2 411.6,303.0 414.2,303.8 416.8,304.5 419.3,305.1 421.9,305.7 424.4,306.3 427.0,306.8 429.5,307.2 432.1,307.6 434.6,308.0 437.2,308.3 439.7,308.6 442.3,308.8 444.8,309.0 447.4,309.1 449.9,309.2 452.5,309.2" fill="none" stroke="#2932e1" stroke-width="1.9" stroke-linejoin="round" stroke-linecap="round"/>
</svg>
<svg class="icons" width="487" height="382" viewBox="0 0 487 382" fill="none" stroke="#9b9b9b" stroke-width="1.25" stroke-linecap="butt" stroke-linejoin="miter">
<path d="M24.30 348.30 L24.30 341.70 L31.20 341.70"/>
<path d="M35.80 341.70 L41.60 341.70 L41.60 347.30 M41.40 341.90 L35.40 347.60"/>
<path d="M24.30 352.00 L24.30 358.00 L30.20 358.00 M24.50 357.80 L30.60 351.80"/>
<path d="M34.60 358.00 L41.60 358.00 L41.60 351.30"/>
<rect x="59.40" y="341.70" width="16.2" height="16.3" rx="1.3"/>
<path d="M64.50 344.20 L64.50 346.60 L61.60 346.60"/>
<path d="M70.50 344.20 L70.50 346.60 L73.30 346.60"/>
<path d="M61.60 352.90 L64.50 352.90 L64.50 355.40"/>
<path d="M73.30 352.90 L70.50 352.90 L70.50 355.40"/>
<circle cx="95.10" cy="344.20" r="1.6"/>
<path d="M96.80 344.30 L109.40 344.30"/>
<path d="M95.10 348.90 L107.20 348.90" stroke-width="1.5" opacity="0.8"/>
<path d="M96.10 353.10 L106.10 353.10" stroke-width="1.5" opacity="0.8"/>
<path d="M98.00 357.40 L104.00 357.40" stroke-width="1.5" opacity="0.75"/>
<path d="M134.70 341.20 L134.70 355.20" stroke-width="1.5" opacity="0.8"/>
<path d="M127.70 348.60 L134.70 355.50 L141.70 348.60"/>
<path d="M126.20 357.95 L143.70 357.95" stroke-width="1.5" opacity="0.85"/>
</svg>
</div>
<div class="card" style="left:1035px;top:416px;height:381px">
<h3 class="title"><span class="ta">-Metrics/</span>Eval(Epoch): bbox_map</h3>
<svg class="plot" width="487" height="382" viewBox="0 0 487 382">
<line x1="69.5" y1="69.50" x2="452.5" y2="69.50" stroke="#ebebeb" stroke-width="3" stroke-opacity="0.3"/>
<line x1="69.5" y1="69.50" x2="452.5" y2="69.50" stroke="#ebebeb" stroke-width="1"/>
<line x1="69.5" y1="117.50" x2="452.5" y2="117.50" stroke="#ebebeb" stroke-width="3" stroke-opacity="0.3"/>
<line x1="69.5" y1="117.50" x2="452.5" y2="117.50" stroke="#ebebeb" stroke-width="1"/>
<line x1="69.5" y1="165.50" x2="452.5" y2="165.50" stroke="#ebebeb" stroke-width="3" stroke-opacity="0.3"/>
<line x1="69.5" y1="165.50" x2="452.5" y2="165.50" stroke="#ebebeb" stroke-width="1"/>
<line x1="69.5" y1="213.50" x2="452.5" y2="213.50" stroke="#ebebeb" stroke-width="3" stroke-opacity="0.3"/>
<line x1="69.5" y1="213.50" x2="452.5" y2="213.50" stroke="#ebebeb" stroke-width="1"/>
<line x1="69.5" y1="261.50" x2="452.5" y2="261.50" stroke="#ebebeb" stroke-width="3" stroke-opacity="0.3"/>
<line x1="69.5" y1="261.50" x2="452.5" y2="261.50" stroke="#ebebeb" stroke-width="1"/>
<line x1="69.5" y1="309.20" x2="452.5" y2="309.20" stroke="#ebebeb" stroke-width="3" stroke-opacity="0.3"/>
<line x1="69.5" y1="309.20" x2="452.5" y2="309.20" stroke="#e4e4e4" stroke-width="1"/>
<line x1="69.5" y1="69.0" x2="69.5" y2="309.7" stroke="#e4e4e4" stroke-width="1"/>
<g font-family="Liberation Sans, sans-serif" font-size="14" fill="#767676" stroke="#767676" stroke-width="0.3" letter-spacing="-0.3" text-anchor="end">
<text x="59.5" y="72.1">100</text>
<text x="59.5" y="120.0">80</text>
<text x="59.5" y="168.0">60</text>
<text x="59.5" y="215.9">40</text>
<text x="59.5" y="263.9">20</text>
<text x="59.5" y="311.8">0</text>
</g>
<g font-family="Liberation Sans, sans-serif" font-size="14" fill="#767676" stroke="#767676" stroke-width="0.3" letter-spacing="-0.3" text-anchor="middle">
<text x="69.5" y="326.8">0</text>
<text x="146.1" y="326.8">20</text>
<text x="222.7" y="326.8">40</text>
<text x="299.3" y="326.8">60</text>
<text x="375.9" y="326.8">80</text>
<text x="452.5" y="326.8">100</text>
</g>
<polyline points="73.3,309.0 74.3,274.0 75.3,204.0 76.2,144.0 76.6,114.0 76.9,99.0 77.6,93.5 78.8,91.6 81.0,90.6 83.3,90.4 86.0,90.7 91.1,91.7 94.5,92.3 97.6,92.9 100.0,92.4 102.5,91.2 104.7,90.7 107.0,91.0 109.5,92.0 111.9,92.6 149.5,92.6 153.4,92.0 196.2,92.0 200.7,91.6 244.2,91.6 248.0,92.1 252.0,92.4 260.0,92.6 452.3,92.6" fill="none" stroke="#2932e1" stroke-width="3.4" stroke-opacity="0.16" stroke-linejoin="round" stroke-linecap="round"/>
<polyline points="73.3,309.0 74.3,274.0 75.3,204.0 76.2,144.0 76.6,114.0 76.9,99.0 77.6,93.5 78.8,91.6 81.0,90.6 83.3,90.4 86.0,90.7 91.1,91.7 94.5,92.3 97.6,92.9 100.0,92.4 102.5,91.2 104.7,90.7 107.0,91.0 109.5,92.0 111.9,92.6 149.5,92.6 153.4,92.0 196.2,92.0 200.7,91.6 244.2,91.6 248.0,92.1 252.0,92.4 260.0,92.6 452.3,92.6" fill="none" stroke="#2932e1" stroke-width="1.9" stroke-linejoin="round" stroke-linecap="round"/>
</svg>
<svg class="icons" width="487" height="382" viewBox="0 0 487 382" fill="none" stroke="#9b9b9b" stroke-width="1.25" stroke-linecap="butt" stroke-linejoin="miter">
<path d="M24.30 348.30 L24.30 341.70 L31.20 341.70"/>
<path d="M35.80 341.70 L41.60 341.70 L41.60 347.30 M41.40 341.90 L35.40 347.60"/>
<path d="M24.30 352.00 L24.30 358.00 L30.20 358.00 M24.50 357.80 L30.60 351.80"/>
<path d="M34.60 358.00 L41.60 358.00 L41.60 351.30"/>
<rect x="59.40" y="341.70" width="16.2" height="16.3" rx="1.3"/>
<path d="M64.50 344.20 L64.50 346.60 L61.60 346.60"/>
<path d="M70.50 344.20 L70.50 346.60 L73.30 346.60"/>
<path d="M61.60 352.90 L64.50 352.90 L64.50 355.40"/>
<path d="M73.30 352.90 L70.50 352.90 L70.50 355.40"/>
<circle cx="95.10" cy="344.20" r="1.6"/>
<path d="M96.80 344.30 L109.40 344.30"/>
<path d="M95.10 348.90 L107.20 348.90" stroke-width="1.5" opacity="0.8"/>
<path d="M96.10 353.10 L106.10 353.10" stroke-width="1.5" opacity="0.8"/>
<path d="M98.00 357.40 L104.00 357.40" stroke-width="1.5" opacity="0.75"/>
<path d="M134.70 341.20 L134.70 355.20" stroke-width="1.5" opacity="0.8"/>
<path d="M127.70 348.60 L134.70 355.50 L141.70 348.60"/>
<path d="M126.20 357.95 L143.70 357.95" stroke-width="1.5" opacity="0.85"/>
</svg>
</div>
<svg class="wm" viewBox="0 788 90 23">
<defs><linearGradient id="rg" x1="0" y1="0" x2="0" y2="1"><stop offset="0" stop-color="#f45a5a"/><stop offset="0.45" stop-color="#ec2222"/><stop offset="1" stop-color="#e01212"/></linearGradient></defs>
<ellipse cx="15.6" cy="801.5" rx="14.7" ry="9.7" fill="url(#rg)"/>
<g fill="none" stroke="#ffffff" stroke-width="1.2" stroke-linecap="round" stroke-linejoin="round">
<path d="M4.9 806.2 L7.6 798.3 H11.3 Q12.9 798.3 12.5 799.9 L11.9 802 Q11.5 803.3 10.2 803.3 H6.1"/>
<path d="M14.5 794.8 L11.7 803.3 M13.2 798.7 H17.3 Q18.9 798.7 18.5 800.2 L17.5 803.3"/>
<path d="M18.7 806.2 L21.4 798.3 H25.1 Q26.7 798.3 26.3 799.9 L25.7 802 Q25.3 803.3 24 803.3 H19.9"/>
</g>
<g transform="translate(0,0) skewX(-10) translate(141.3,0)" fill="none" stroke="#0a0a0a" stroke-width="1.45" stroke-linecap="round" stroke-linejoin="round">
<!-- zhong -->
<path d="M34.6 797.2 H47.2 V805.2 H34.6 Z M40.9 794.6 V808"/>
<!-- wen -->
<path d="M56.9 794.3 L57.6 796 M50.3 796.6 H64.6 M53 798.4 C55 803 58.5 806 64.6 807.2 M61.8 798.4 C60 803 56 806 50 807.4"/>
<!-- wang -->
<path d="M67.3 807.6 V795.6 H79.6 V806.2 Q79.6 807.6 77.8 807.4 M69.6 798.6 L73 804.6 M73 798.6 L69.4 805 M74.6 798.6 L78 804.6 M78 798.6 L74.4 805"/>
</g>
</svg>
</body></html>
